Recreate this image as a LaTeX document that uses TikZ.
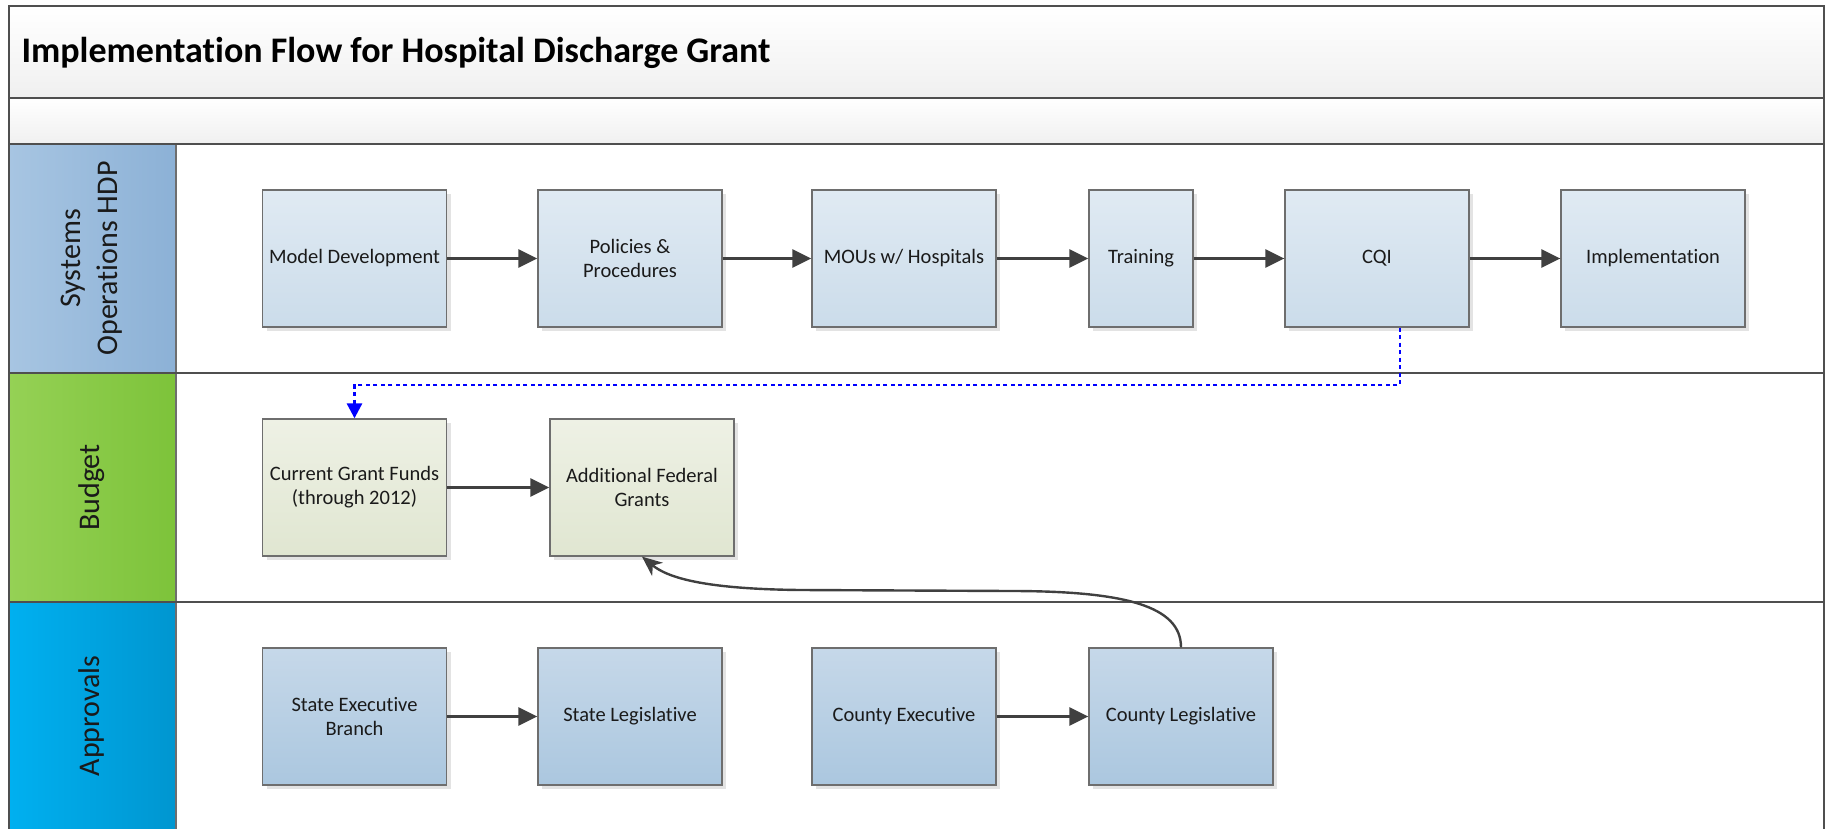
\documentclass[tikz,border=0pt]{standalone}
\usepackage{fontspec}
\setmainfont{Carlito}[Ligatures={NoCommon}]
\usetikzlibrary{arrows.meta,shadows}
\definecolor{frameline}{HTML}{4F4F4F}
\definecolor{boxborder}{HTML}{6E6E6E}
\definecolor{txt}{HTML}{1A1A1A}
\definecolor{hAl}{HTML}{A7C5E2}
\definecolor{hAr}{HTML}{8CB1D6}
\definecolor{hBl}{HTML}{95D155}
\definecolor{hBr}{HTML}{7DC33A}
\definecolor{hCl}{HTML}{00B0F0}
\definecolor{hCr}{HTML}{0096D0}
\definecolor{bAt}{HTML}{E0EAF3}
\definecolor{bAb}{HTML}{CBDCEA}
\definecolor{bBt}{HTML}{EEF1E5}
\definecolor{bBb}{HTML}{E0E6D1}
\definecolor{bCt}{HTML}{C6D8E9}
\definecolor{bCb}{HTML}{ABC7DF}
\definecolor{arrowgray}{HTML}{404040}
\definecolor{dashblue}{HTML}{0000FF}
\begin{document}
\begin{tikzpicture}[x=1pt,y=-1pt,
  boxbase/.style={draw=boxborder, line width=1.3pt, minimum height=137pt, minimum width=184pt,
    align=center, text=txt, font=\fontsize{20.5}{24}\selectfont, inner sep=2pt,
    drop shadow={shadow xshift=4pt, shadow yshift=-4pt, fill=black!11, opacity=1}},
  boxA/.style={boxbase, top color=bAt, bottom color=bAb},
  boxB/.style={boxbase, top color=bBt, bottom color=bBb},
  boxC/.style={boxbase, top color=bCt, bottom color=bCb},
  lanelabel/.style={rotate=90, align=center, text=txt, font=\fontsize{30}{37}\selectfont},
  flow/.style={draw=arrowgray, line width=2.6pt, -{Triangle[length=19pt,width=18pt]}},
  curveflow/.style={draw=arrowgray, line width=2.4pt, -{Stealth[length=20pt,width=17pt,inset=6pt]}},
  dotflow/.style={draw=dashblue, line width=2.8pt, dash pattern=on 4pt off 3.5pt,
    -{Triangle[length=15pt,width=15pt]}},
  sepline/.style={draw=frameline, line width=2.6pt}
]
\useasboundingbox (0,0) rectangle (1832,829);
% bands
\shade[top color=white, bottom color=black!6] (9,6) rectangle (1824,98);
\shade[top color=white, bottom color=black!6] (9,98) rectangle (1824,144);
% lane headers
\shade[left color=hAl, right color=hAr] (9,144) rectangle (176,373);
\shade[left color=hBl, right color=hBr] (9,373) rectangle (176,602);
\shade[left color=hCl, right color=hCr] (9,602) rectangle (176,840);
% frame and separators
\draw[boxborder, line width=1.6pt] (176,144) -- (176,840);
\draw[sepline] (9,840) -- (9,6) -- (1824,6) -- (1824,840);
\draw[sepline] (9,98) -- (1824,98);
\draw[sepline] (9,144) -- (1824,144);
\draw[sepline] (9,373) -- (1824,373);
\draw[sepline] (9,602) -- (1824,602);

% title
\node[anchor=west, font=\bfseries\fontsize{36}{40}\selectfont, text=black] (title) at (18,53)
  {Implementation Flow for Hospital Discharge Grant};

% lane labels
\node[lanelabel] (laneA) at (92,258.5) {Systems\\Operations HDP};
\node[lanelabel] (laneB) at (92,487.5) {Budget};
\node[lanelabel] (laneC) at (92,716) {Approvals};

% lane 1 boxes
\node[boxA] (md)  at (354.5,258.5) {Model Development};
\node[boxA] (pp)  at (630,258.5) {Policies \&\\Procedures};
\node[boxA] (mou) at (904,258.5) {MOUs w/ Hospitals};
\node[boxA, minimum width=104pt] (tr) at (1141,258.5) {Training};
\node[boxA] (cqi) at (1377,258.5) {CQI};
\node[boxA] (imp) at (1653,258.5) {Implementation};

% lane 2 boxes
\node[boxB] (cgf) at (354.5,487.5) {Current Grant Funds\\(through 2012)};
\node[boxB] (afg) at (642,487.5) {Additional Federal\\Grants};

% lane 3 boxes
\node[boxC] (se) at (354.5,716.5) {State Executive\\Branch};
\node[boxC] (sl) at (630,716.5) {State Legislative};
\node[boxC] (ce) at (904,716.5) {County Executive};
\node[boxC] (cl) at (1181,716.5) {County Legislative};

% connectors
\draw[flow] (md) -- (pp);
\draw[flow] (pp) -- (mou);
\draw[flow] (mou) -- (tr);
\draw[flow] (tr) -- (cqi);
\draw[flow] (cqi) -- (imp);
\draw[flow] (cgf) -- (afg);
\draw[flow] (se) -- (sl);
\draw[flow] (ce) -- (cl);

\coordinate (dk) at (1400,385);
\draw[dotflow] (cqi.south -| dk) -- (dk) -| (cgf.north);

\draw[curveflow] (cl.north) .. controls (1181,606) and (1125,591) .. (1010,591)
  -- (800,590) .. controls (705,589) and (668,578) .. (afg.south);
\end{tikzpicture}
\end{document}
